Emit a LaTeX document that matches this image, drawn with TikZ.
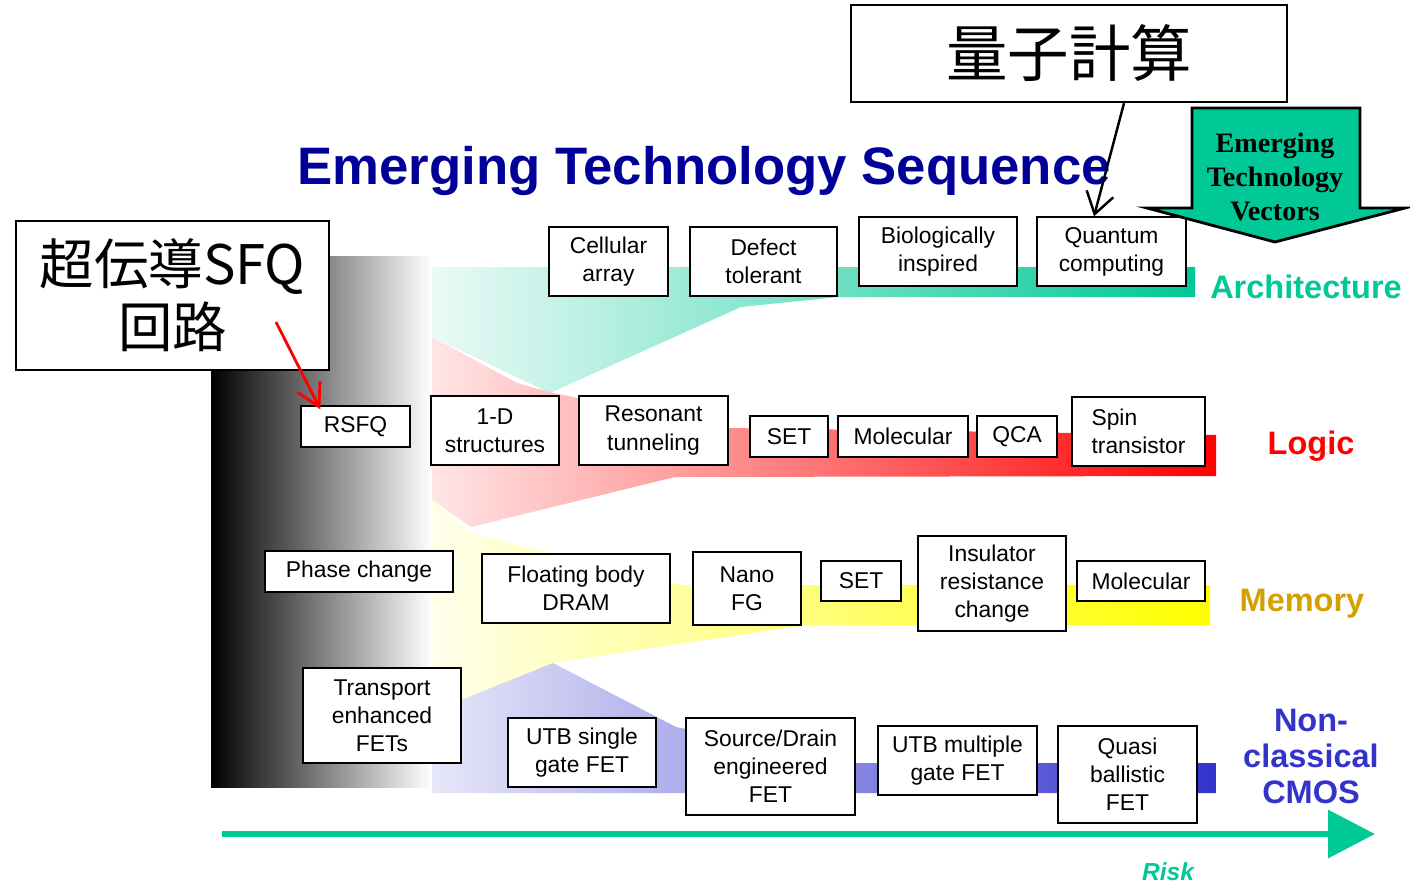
\documentclass[tikz,border=0pt]{standalone}
\usepackage{fontspec}
\setmainfont{Liberation Sans}
\newfontfamily\jpfont{Noto Sans CJK JP}
\newfontfamily\vecfont{Liberation Serif}
\usetikzlibrary{arrows.meta}

\definecolor{archgreen}{RGB}{0,200,150}
\definecolor{titleblue}{RGB}{0,0,153}
\definecolor{memgold}{RGB}{212,160,0}
\definecolor{cmosblue}{RGB}{51,51,204}

\tikzset{
  tech/.style={draw, fill=white, line width=0.8pt, inner sep=0pt, align=center,
    font=\fontsize{13}{16}\selectfont},
  sz/.style 2 args={minimum width=#1*0.02cm, minimum height=#2*0.02cm},
  rowlabel/.style={font=\fontsize{18.5}{20.5}\selectfont\bfseries, align=center},
  callout/.style={draw, fill=white, line width=1.4pt, inner sep=0pt, align=center},
}

\begin{document}
\begin{tikzpicture}[x=0.02cm, y=-0.02cm]
    \useasboundingbox (0,0) rectangle (1410,886);

    % grey fade at the left
    \shade[left color=black, right color=white] (211,256) rectangle (432,787);

    % the four fans
    \shade[left color=archgreen!8, right color=archgreen]
        (432,267) -- (1195,267) -- (1195,297) -- (838,297) -- (741,307)
        -- (550,393) -- (432,337) -- cycle;
    \shade[left color=red!10, middle color=red!35, right color=red]
        (432,337) -- (517,383) -- (553,393) -- (729,428) -- (1216,435)
        -- (1216,476) -- (675,477) -- (471,527) -- (432,500) -- cycle;
    \shade[left color=yellow!8, right color=yellow]
        (432,500) -- (471,533) -- (680,585) -- (1210,585) -- (1210,625)
        -- (805,625) -- (553,663) -- (461,700) -- (432,710) -- cycle;
    \shade[left color=cmosblue!12, middle color=cmosblue!45, right color=cmosblue]
        (432,710) -- (461,700) -- (553,663) -- (676,727) -- (856,763)
        -- (1216,763) -- (1216,793) -- (432,793) -- cycle;

    \node[font=\fontsize{30}{36}\selectfont\bfseries, text=titleblue] (title) at (704,171)
        {Emerging Technology Sequence};

    % architecture
    \node[tech, sz={119}{69}] (cellular) at (608.5,261.5) {Cellular\\array};
    \node[tech, sz={147}{69}] (defect) at (763.5,261.5) {Defect\\tolerant};
    \node[tech, sz={158}{69}] (bio) at (938,251.5) {Biologically\\inspired};
    \node[tech, sz={149}{69}] (quantum) at (1111.5,251.5) {Quantum\\computing};
    \node[rowlabel, text=archgreen] (arch) at (1306,287) {Architecture};

    % logic
    \node[tech, sz={109}{41}] (rsfq) at (355.5,426.5) {RSFQ};
    \node[tech, sz={128}{69}] (oned) at (495,430.5) {1-D\\structures};
    \node[tech, sz={149}{69}] (resonant) at (653.5,430.5) {Resonant\\tunneling};
    \node[tech, sz={78}{41}] (setl) at (789,436.5) {SET};
    \node[tech, sz={130}{41}] (moll) at (903,436.5) {Molecular};
    \node[tech, sz={80}{41}] (qca) at (1017,436.5) {QCA};
    \node[tech, sz={133}{69}, align=left] (spin) at (1138.5,431.5) {Spin\\transistor};
    \node[rowlabel, text=red] (logic) at (1311,446) {Logic};

    % memory
    \node[tech, sz={188}{41}] (phase) at (359,571.5) {Phase change};
    \node[tech, sz={188}{69}] (fbdram) at (576,588.5) {Floating body\\DRAM};
    \node[tech, sz={108}{73}] (nanofg) at (747,588.5) {Nano\\FG};
    \node[tech, sz={80}{40}] (setm) at (861,581) {SET};
    \node[tech, sz={148}{95}] (insul) at (992,583.5) {Insulator\\resistance\\change};
    \node[tech, sz={128}{40}] (molm) at (1141,581) {Molecular};
    \node[rowlabel, text=memgold] (memory) at (1302,604) {Memory};

    % non-classical CMOS
    \node[tech, sz={158}{95}] (transport) at (382,715.5) {Transport\\enhanced\\FETs};
    \node[tech, sz={148}{69}] (utbs) at (582,752.5) {UTB single\\gate FET};
    \node[tech, sz={169}{97}] (sde) at (770.5,766.5) {Source/Drain\\engineered\\FET};
    \node[tech, sz={159}{69}] (utbm) at (957.5,760.5) {UTB multiple\\gate FET};
    \node[tech, sz={139}{97}] (quasi) at (1127.5,774.5) {Quasi\\ballistic\\FET};
    \node[rowlabel, text=cmosblue] (cmos) at (1311,756) {Non-\\classical\\CMOS};

    % risk axis
    \coordinate (riskstart) at (222,834);
    \coordinate (riskend) at (1375,834);
    \draw[archgreen, line width=0.134cm, -{Triangle[length=0.94cm, width=0.94cm]}] (riskstart) -- (riskend);
    \node[font=\fontsize{14}{16}\selectfont\bfseries\itshape, text=archgreen] (risk) at (1168,872) {Risk};

    % vectors arrow
    \filldraw[fill=archgreen, draw=black, line width=1.6pt]
        (1192,108) -- (1360,108) -- (1360,208) -- (1405,208) -- (1275,242)
        -- (1147,208) -- (1192,208) -- cycle;
    \node[font=\vecfont\fontsize{16}{19.4}\selectfont\bfseries, align=center] (vectors) at (1275,177)
        {Emerging\\Technology\\Vectors};

    % callouts
    \node[callout, minimum width=8.72cm, minimum height=1.94cm,
        font=\jpfont\fontsize{35}{40}\selectfont] (qc) at (1069,53.5) {量子計算};
    \node[callout, minimum width=6.26cm, minimum height=2.98cm,
        font=\jpfont\fontsize{31}{36}\selectfont] (sfq) at (172.5,295.5) {超伝導SFQ\\回路};

    \draw[line width=1.4pt, -{Straight Barb[length=0.42cm, width=0.55cm]}]
        ([xshift=1.1cm]qc.south) -- ([xshift=-0.35cm]quantum.north);
    \coordinate (sfqtail) at (276,322);
    \draw[red, line width=1.6pt, -{Straight Barb[length=0.45cm, width=0.5cm]}]
        (sfqtail) -- ([xshift=0.4cm, yshift=-0.08cm]rsfq.north west);
\end{tikzpicture}
\end{document}
